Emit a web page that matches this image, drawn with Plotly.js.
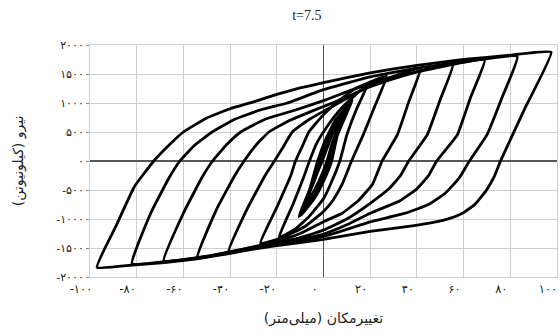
<!DOCTYPE html>
<html>
<head>
<meta charset="utf-8">
<script src="https://cdn.plot.ly/plotly-3.0.1.min.js"></script>
<style>
	html, body { margin: 0; padding: 0; background: #fff; }
	#graph { width: 560px; height: 336px; }
</style>
</head>
<body>
<div id="graph"></div>
<script>
// displacement (mm) and force (kN) for each cycle
var disp0 = [9, 4, 1.5, -2, -6, -8, -4, -1, 2, 6, 9];
var force0 = [800, 350, 0, -350, -650, -760, -350, 0, 350, 650, 800];

var disp0b = [10.5, 5, 2.5, -0.5, -4.5, -9, -5, -0.5, 3, 7, 10.5];
var force0b = [950, 420, 0, -320, -620, -860, -420, 0, 380, 700, 950];

var disp1 = [12.3, 6, 3.5, 0, -4, -8, -10.6, -6, -2.5, 1, 5, 9, 12.3];
var force1 = [1052, 450, 0, -350, -650, -850, -960, -500, 0, 380, 700, 900, 1052];

var disp1b = [11.5, 5.5, 2.5, -1, -5, -8.5, -10, -5.5, -1.5, 2, 6, 9.5, 11.5];
var force1b = [1010, 450, 0, -380, -680, -880, -940, -470, 0, 400, 720, 900, 1010];

var disp2 = [19, 14, 10, 7, 3, 0, -6, -12, -19.1, -13, -8.5, -6, -3, 2, 7, 12, 19];
var force2 = [1330, 880, 450, 0, -400, -650, -950, -1170, -1320, -740, -280, 0, 300, 620, 880, 1080, 1330];

var disp3 = [27, 22, 17, 12, 8, 4, 0, -8, -18, -27, -20, -14, -12, -9, -6.3, 0, 6, 13, 20, 27];
var force3 = [1460, 950, 450, 0, -400, -680, -870, -1130, -1330, -1419, -800, -250, 0, 260, 500, 800, 1020, 1230, 1360, 1460];

var disp4 = [41.5, 36.5, 31.6, 25.1, 21, 15, 8, 0, -10, -20, -30, -40.6, -33, -25, -21, -17, -13.4, -6, 2, 10, 20, 30, 41.5];
var force4 = [1598, 1020, 450, 0, -400, -680, -900, -1046, -1250, -1390, -1480, -1563, -850, -250, 0, 260, 500, 720, 900, 1080, 1300, 1460, 1598];

var disp5 = [55.5, 50, 44.4, 36.5, 33, 28, 20, 10, 0, -10, -20, -41, -54.1, -46, -38, -34, -29, -23.4, -15, -5, 5, 20, 35, 55.5];
var force5 = [1684, 1060, 450, 0, -250, -480, -730, -1000, -1190, -1320, -1410, -1570, -1678, -850, -250, 0, 270, 500, 690, 860, 1020, 1280, 1480, 1684];

var disp6 = [69, 63, 57.3, 48.5, 45, 40, 33, 20, 10, 0, -20, -41, -55, -68.4, -60, -52, -47.5, -41, -35.5, -25, -12, 0, 15, 30, 50, 69];
var force6 = [1745, 1100, 450, 0, -250, -480, -680, -900, -1100, -1260, -1430, -1580, -1670, -1720, -900, -280, 0, 300, 500, 720, 880, 1040, 1270, 1450, 1620, 1745];

var disp7 = [83, 76.5, 70, 62.5, 58, 52, 45, 35, 20, 0, -20, -30, -41, -55, -68, -82, -74, -66, -61.5, -55, -47.7, -38, -27, -15.5, 0, 20, 40, 60, 83];
var force7 = [1805, 1100, 450, 0, -300, -560, -750, -900, -1050, -1300, -1440, -1500, -1590, -1680, -1735, -1770, -900, -280, 0, 280, 500, 720, 880, 1000, 1230, 1450, 1600, 1710, 1805];

var disp8 = [97.5, 86.5, 75.8, 73, 69.5, 65, 60, 54, 47, 38, 30, 20, 0, -20, -30, -41, -55, -68, -82, -97, -89, -81, -72.7, -66, -60, -50, -40, -30, -20, -10, 0, 20, 40, 60, 80, 97.5];
var force8 = [1875, 930, 0, -280, -520, -740, -890, -990, -1060, -1120, -1160, -1215, -1350, -1460, -1520, -1600, -1690, -1750, -1795, -1835, -1133, -443, 0, 280, 500, 740, 900, 1020, 1150, 1260, 1350, 1520, 1650, 1750, 1825, 1875];

var xTicks = [-100, -80, -60, -40, -20, 0, 20, 40, 60, 80, 100];
var xTickText = ["-۱۰۰", "-۸۰", "-۶۰", "-۴۰", "-۲۰", "۰", "۲۰", "۴۰", "۶۰", "۸۰", "۱۰۰"];
var yTicks = [2000, 1500, 1000, 500, 0, -500, -1000, -1500, -2000];
var yTickText = ["۲۰۰۰", "۱۵۰۰", "۱۰۰۰", "۵۰۰", "۰", "-۵۰۰", "-۱۰۰۰", "-۱۵۰۰", "-۲۰۰۰"];

var FONT_FA = "DejaVu Sans, Noto Sans, sans-serif";

function loopTrace(x, y)
{
	return {
		type: "scatter",
		mode: "lines",
		x: x,
		y: y,
		showlegend: false,
		hoverinfo: "skip",
		line: {color: "#000000", width: 2.8, shape: "spline", smoothing: 0.35}
	};
}

function genGraph()
{
	var data, layout;

	data = [
		loopTrace(disp0, force0),
		loopTrace(disp0b, force0b),
		loopTrace(disp1, force1),
		loopTrace(disp1b, force1b),
		loopTrace(disp2, force2),
		loopTrace(disp3, force3),
		loopTrace(disp4, force4),
		loopTrace(disp5, force5),
		loopTrace(disp6, force6),
		loopTrace(disp7, force7),
		loopTrace(disp8, force8)
	];

	layout =
	{
		width: 560,
		height: 336,
		margin: {l: 90, r: 3, t: 45, b: 59},
		paper_bgcolor: "#ffffff",
		plot_bgcolor: "#ffffff",
		title:
		{
			text: "t=7.5",
			font: {family: "Liberation Serif, serif", size: 14, color: "#222"},
			xref: "container",
			x: 0.548,
			xanchor: "center",
			yref: "container",
			y: 0.955,
			yanchor: "middle"
		},
		xaxis:
		{
			range: [-100, 100],
			tickmode: "array",
			tickvals: xTicks,
			ticktext: xTickText,
			ticklabelshift: -9,
			ticklabelstandoff: 1,
			tickfont: {family: FONT_FA, size: 11.5, color: "#222"},
			ticks: "",
			showgrid: true,
			gridcolor: "#cfcfcf",
			gridwidth: 1,
			zeroline: true,
			zerolinecolor: "#555555",
			zerolinewidth: 1.5,
			showline: true,
			linecolor: "#cfcfcf",
			mirror: true,
			title:
			{
				text: "تغییرمکان (میلی‌متر)",
				font: {family: FONT_FA, size: 14, color: "#222"},
				standoff: 18
			}
		},
		yaxis:
		{
			range: [-2000, 2000],
			tickmode: "array",
			tickvals: yTicks,
			ticktext: yTickText,
			tickfont: {family: FONT_FA, size: 11, color: "#222"},
			ticks: "outside",
			ticklen: 3,
			tickcolor: "#888",
			showgrid: true,
			gridcolor: "#cfcfcf",
			gridwidth: 1,
			zeroline: true,
			zerolinecolor: "#555555",
			zerolinewidth: 1.5,
			showline: true,
			linecolor: "#cfcfcf",
			mirror: true,
			title:
			{
				text: "نیرو (کیلونیوتن)",
				font: {family: FONT_FA, size: 14, color: "#222"},
				standoff: 29
			}
		}
	};

	Plotly.newPlot("graph", data, layout, {displayModeBar: false, staticPlot: true});
}

genGraph();
</script>
</body>
</html>
